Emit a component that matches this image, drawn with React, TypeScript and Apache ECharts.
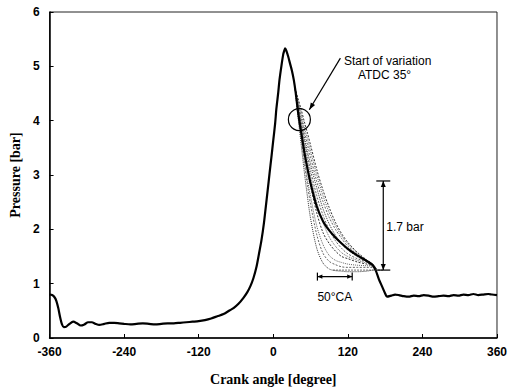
import React, { useEffect, useRef } from "react";
import * as echarts from "echarts";

// Main (mean) pressure trace: crank angle [deg] and pressure [bar]
const mainAngles = [
  -360, -356, -352, -349, -346, -343, -340, -337, -333, -328, -322, -316, -310, -304, -298, -292, -286, -280,
  -272, -264, -256, -248, -240, -230, -220, -210, -200, -190, -180, -170, -160, -150, -140, -130, -120, -110,
  -100, -90, -80, -70, -64, -56, -48, -42, -37, -32, -27, -23, -19, -15, -12, -9, -6, -3, 0, 3, 5, 8, 10, 13,
  16, 18, 19, 21, 24, 27, 30, 33, 36, 40, 45, 50, 55, 60, 70, 80, 90, 100, 110, 120, 135, 150, 160, 165, 170,
  175, 180, 183, 190, 196, 202, 210, 218, 226, 234, 242, 250, 258, 266, 274, 282, 290, 298, 306, 314, 322, 330,
  338, 346, 352, 360,
];
const mainPressure = [
  0.8, 0.79, 0.75, 0.68, 0.55, 0.38, 0.25, 0.2, 0.21, 0.26, 0.3, 0.27, 0.23, 0.25, 0.29, 0.29, 0.26, 0.24,
  0.26, 0.28, 0.28, 0.27, 0.26, 0.25, 0.26, 0.27, 0.26, 0.25, 0.26, 0.27, 0.27, 0.28, 0.29, 0.3, 0.31, 0.33,
  0.36, 0.4, 0.44, 0.51, 0.55, 0.63, 0.74, 0.84, 0.95, 1.1, 1.31, 1.55, 1.8, 2.12, 2.42, 2.72, 3.03, 3.33, 3.64,
  3.95, 4.22, 4.52, 4.75, 5.0, 5.22, 5.3, 5.33, 5.29, 5.18, 5.05, 4.92, 4.75, 4.52, 4.15, 3.78, 3.42, 3.12, 2.85,
  2.42, 2.15, 1.98, 1.85, 1.74, 1.64, 1.52, 1.42, 1.34, 1.24, 1.08, 0.95, 0.82, 0.76, 0.78, 0.8, 0.79, 0.77,
  0.76, 0.78, 0.77, 0.79, 0.78, 0.76, 0.77, 0.78, 0.77, 0.79, 0.78, 0.8, 0.79, 0.81, 0.79, 0.8, 0.81, 0.8, 0.79,
];

// Cycle-to-cycle variation traces after ATDC 35°
const varAngles = [35, 40, 45, 50, 55, 60, 70, 80, 90, 100, 110, 120, 135, 150, 160, 166];
const var1 = [4.6, 4.05, 3.55, 3.05, 2.6, 2.2, 1.65, 1.38, 1.27, 1.24, 1.23, 1.22, 1.22, 1.23, 1.25, 1.26];
const var2 = [4.6, 4.1, 3.66, 3.22, 2.82, 2.46, 1.9, 1.56, 1.41, 1.35, 1.31, 1.3, 1.3, 1.3, 1.3, 1.28];
const var3 = [4.6, 4.13, 3.7, 3.3, 2.92, 2.6, 2.06, 1.72, 1.52, 1.43, 1.39, 1.36, 1.34, 1.33, 1.32, 1.28];
const var4 = [4.6, 4.18, 3.8, 3.45, 3.1, 2.8, 2.3, 1.94, 1.74, 1.6, 1.5, 1.46, 1.4, 1.36, 1.33, 1.27];
const var5 = [4.6, 4.21, 3.86, 3.55, 3.26, 2.98, 2.5, 2.13, 1.86, 1.69, 1.57, 1.5, 1.43, 1.38, 1.34, 1.27];
const var6 = [4.6, 4.25, 3.93, 3.63, 3.35, 3.08, 2.62, 2.26, 1.99, 1.79, 1.65, 1.55, 1.46, 1.4, 1.35, 1.27];
const var7 = [4.6, 4.28, 3.98, 3.7, 3.44, 3.2, 2.76, 2.38, 2.1, 1.89, 1.74, 1.62, 1.5, 1.41, 1.35, 1.27];
const var8 = [4.6, 4.32, 4.05, 3.8, 3.56, 3.33, 2.88, 2.51, 2.22, 2.0, 1.83, 1.69, 1.54, 1.43, 1.36, 1.27];
const var9 = [4.6, 4.36, 4.12, 3.88, 3.66, 3.44, 3.0, 2.62, 2.31, 2.07, 1.88, 1.73, 1.56, 1.43, 1.36, 1.27];
const var10 = [4.6, 4.4, 4.2, 3.98, 3.77, 3.55, 3.1, 2.72, 2.4, 2.13, 1.92, 1.76, 1.58, 1.44, 1.36, 1.27];
const variations = [var1, var2, var3, var4, var5, var6, var7, var8, var9, var10];

const xTicks = [-360, -240, -120, 0, 120, 240, 360];
const yTicks = [0, 1, 2, 3, 4, 5, 6];

// Annotation anchors in data coordinates
const circleAt = [42, 4.02];
const calloutFrom = [108, 5.15];
const calloutTo = [58, 4.2];
const variationTop = 2.89;
const variationBottom = 1.25;
const variationAngle = 177;
const caFrom = 71;
const caTo = 127;
const caLevel = 1.13;

export default function App() {
  const ref = useRef<HTMLDivElement>(null);
  useEffect(() => {
    if (!ref.current) return;
    const chart = echarts.init(ref.current, null, { renderer: "svg" });
    const zip = (xs: number[], ys: number[]) => xs.map((x, i) => [x, ys[i]]);
    const series: any[] = variations.map((v, i) => ({
      type: "line",
      data: zip(varAngles, v),
      showSymbol: false,
      smooth: 0.3,
      silent: true,
      z: 1,
      lineStyle: {
        color: i % 3 === 0 ? "#333" : "#666",
        width: 1,
        type: i % 2 === 0 ? "dotted" : [2, 1.5],
      },
    }));
    series.push({
      type: "line",
      data: zip(mainAngles, mainPressure),
      showSymbol: false,
      smooth: 0.25,
      z: 3,
      lineStyle: { color: "#000", width: 2.2 },
    });
    chart.setOption({
      animation: false,
      grid: { left: 44, right: 13, top: 12, bottom: 53, show: true, borderColor: "#222", borderWidth: 1 },
      xAxis: {
        type: "value",
        min: -360,
        max: 360,
        interval: 120,
        name: "Crank angle [degree]",
        nameLocation: "middle",
        nameGap: 34,
        nameTextStyle: { fontFamily: "Liberation Serif", fontWeight: "bold", fontSize: 14, color: "#000" },
        axisLine: { show: true, onZero: false, lineStyle: { color: "#000", width: 1.5 } },
        axisTick: { show: true, inside: true, length: 4, lineStyle: { color: "#000" } },
        axisLabel: {
          margin: 8,
          fontFamily: "Liberation Sans",
          fontSize: 12,
          fontWeight: "bold",
          color: "#000",
          customValues: xTicks,
        },
        splitLine: { show: false },
      },
      yAxis: {
        type: "value",
        min: 0,
        max: 6,
        interval: 1,
        name: "Pressure [bar]",
        nameLocation: "middle",
        nameGap: 26,
        nameTextStyle: { fontFamily: "Liberation Serif", fontWeight: "bold", fontSize: 14, color: "#000" },
        axisLine: { show: true, onZero: false, lineStyle: { color: "#000", width: 1.5 } },
        axisTick: { show: true, inside: true, length: 4, lineStyle: { color: "#000" } },
        axisLabel: {
          margin: 10,
          fontFamily: "Liberation Sans",
          fontSize: 12,
          fontWeight: "bold",
          color: "#000",
          customValues: yTicks,
        },
        splitLine: { show: false },
      },
      series,
    });

    const p = (pt: number[]) => chart.convertToPixel({ gridIndex: 0 }, pt) as number[];
    const c = p(circleAt);
    const a0 = p(calloutFrom);
    const a1 = p(calloutTo);
    const ang = Math.atan2(a1[1] - a0[1], a1[0] - a0[0]);
    const head = (tip: number[], angle: number, len = 7, w = 2.5) => [
      tip,
      [tip[0] - len * Math.cos(angle) + w * Math.sin(angle), tip[1] - len * Math.sin(angle) - w * Math.cos(angle)],
      [tip[0] - len * Math.cos(angle) - w * Math.sin(angle), tip[1] - len * Math.sin(angle) + w * Math.cos(angle)],
    ];
    const vt = p([variationAngle, variationTop]);
    const vb = p([variationAngle, variationBottom]);
    const textPos = p([184, 5.1]);
    const textPos2 = p([179, 4.84]);
    const barText = p([variationAngle, 2.05]);
    const ca0 = p([caFrom, caLevel]);
    const ca1 = p([caTo, caLevel]);
    const caText = p([(caFrom + caTo) / 2, caLevel - 0.37]);
    const stroke = { stroke: "#000", lineWidth: 1.2 };
    const font = "12px 'Liberation Sans'";

    chart.setOption({
      graphic: [
        { type: "circle", shape: { cx: c[0], cy: c[1], r: 11 }, style: { fill: "none", ...stroke }, z: 10 },
        { type: "line", shape: { x1: a0[0], y1: a0[1], x2: a1[0], y2: a1[1] }, style: stroke, z: 10 },
        { type: "polygon", shape: { points: head(a1, ang) }, style: { fill: "#000" }, z: 10 },
        {
          type: "text",
          x: textPos[0],
          y: textPos[1],
          style: { text: "Start of variation", font, fill: "#000", align: "center", verticalAlign: "middle" },
          z: 10,
        },
        {
          type: "text",
          x: textPos2[0],
          y: textPos2[1],
          style: { text: "ATDC 35°", font, fill: "#000", align: "center", verticalAlign: "middle" },
          z: 10,
        },
        { type: "line", shape: { x1: vt[0], y1: vt[1], x2: vb[0], y2: vb[1] }, style: stroke, z: 10 },
        { type: "line", shape: { x1: vt[0] - 7, y1: vt[1], x2: vt[0] + 7, y2: vt[1] }, style: stroke, z: 10 },
        { type: "line", shape: { x1: vb[0] - 7, y1: vb[1], x2: vb[0] + 7, y2: vb[1] }, style: stroke, z: 10 },
        { type: "polygon", shape: { points: head(vt, -Math.PI / 2, 6, 2.5) }, style: { fill: "#000" }, z: 10 },
        { type: "polygon", shape: { points: head(vb, Math.PI / 2, 6, 2.5) }, style: { fill: "#000" }, z: 10 },
        {
          type: "line",
          shape: { x1: vb[0] - 50, y1: vb[1], x2: vb[0], y2: vb[1] },
          style: { stroke: "#444", lineWidth: 1, lineDash: [1.5, 1.5] },
          z: 9,
        },
        {
          type: "text",
          x: barText[0] + 3,
          y: barText[1],
          style: { text: "1.7 bar", font, fill: "#000", align: "left", verticalAlign: "middle" },
          z: 10,
        },
        { type: "line", shape: { x1: ca0[0], y1: ca0[1], x2: ca1[0], y2: ca1[1] }, style: stroke, z: 10 },
        { type: "line", shape: { x1: ca0[0], y1: ca0[1] - 4, x2: ca0[0], y2: ca0[1] + 4 }, style: stroke, z: 10 },
        { type: "line", shape: { x1: ca1[0], y1: ca1[1] - 4, x2: ca1[0], y2: ca1[1] + 4 }, style: stroke, z: 10 },
        { type: "polygon", shape: { points: head(ca0, Math.PI, 5, 2.2) }, style: { fill: "#000" }, z: 10 },
        { type: "polygon", shape: { points: head(ca1, 0, 5, 2.2) }, style: { fill: "#000" }, z: 10 },
        {
          type: "text",
          x: caText[0],
          y: caText[1],
          style: { text: "50°CA", font, fill: "#000", align: "center", verticalAlign: "middle" },
          z: 10,
        },
      ],
    });
    return () => chart.dispose();
  }, []);
  return <div ref={ref} style={{ width: 510, height: 391, position: "absolute", left: 0, top: 0 }} />;
}
